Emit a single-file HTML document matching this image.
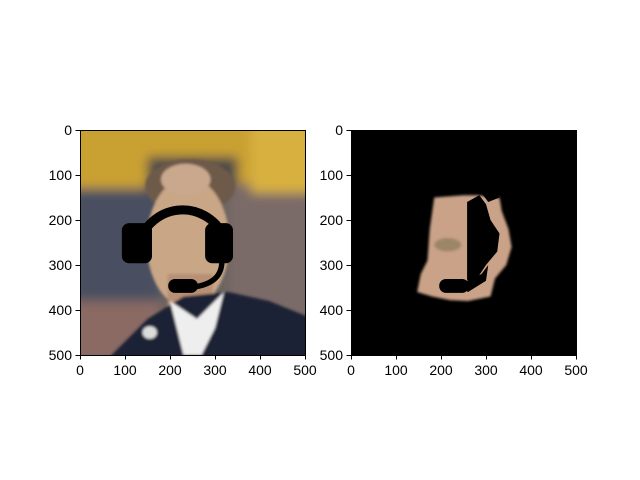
<!DOCTYPE html>
<html><head><meta charset="utf-8"><style>
body{margin:0;background:#fff;width:640px;height:480px;overflow:hidden;font-family:"Liberation Sans","DejaVu Sans",sans-serif}
</style></head><body>
<svg width="640" height="480" style="position:absolute;left:0;top:0">
<defs><filter id="bl"><feGaussianBlur stdDeviation="12"/></filter><filter id="bl2"><feGaussianBlur stdDeviation="3"/></filter>
<clipPath id="c1"><rect width="500" height="500"/></clipPath></defs>
<svg x="80" y="130" width="225" height="225" viewBox="0 0 500 500">
<g clip-path="url(#c1)">
<rect width="500" height="500" fill="#6a6460"/>
<g filter="url(#bl)">
<rect x="-20" y="-20" width="540" height="150" fill="#c9a030"/>
<rect x="150" y="60" width="200" height="80" fill="#4a4a48"/>
<rect x="-20" y="130" width="200" height="300" fill="#4a5060"/>
<rect x="330" y="120" width="200" height="300" fill="#7a6a68"/>
<rect x="380" y="-20" width="140" height="160" fill="#d8b040"/>
<rect x="-20" y="380" width="200" height="140" fill="#8a6a64"/>
</g>
<g filter="url(#bl2)">
<ellipse cx="245" cy="125" rx="100" ry="60" fill="#6e5a48"/>
<ellipse cx="240" cy="250" rx="92" ry="145" fill="#c8a686"/>
<ellipse cx="235" cy="110" rx="55" ry="35" fill="#c9a88e"/>
<rect x="195" y="320" width="100" height="90" fill="#b89074"/>
<path d="M70,500 L150,420 L230,370 L330,360 L420,380 L520,420 L520,520 L70,520Z" fill="#1e2436"/>
<path d="M200,380 L260,420 L320,360 L300,440 L270,500 L230,500 Z" fill="#eeeeee"/>
<ellipse cx="155" cy="450" rx="16" ry="14" fill="#ddd"/>
</g>
<g>
<path d="M127,260 A105,112 0 0 1 320,235" fill="none" stroke="#000" stroke-width="20"/>
<rect x="93" y="207" width="67" height="89" rx="16" fill="#000"/>
<rect x="278" y="207" width="62" height="89" rx="16" fill="#000"/>
<path d="M315,285 Q320,345 240,350" fill="none" stroke="#000" stroke-width="12"/>
<rect x="196" y="331" width="66" height="31" rx="15" fill="#000"/>
</g>
</g>
</svg>
<svg x="351" y="130" width="225" height="225" viewBox="0 0 500 500">
<rect width="500" height="500" fill="#000"/>
<g filter="url(#bl2)">
<path d="M185,150 L250,145 L280,145 L330,150 L335,180 L350,220 L357,260 L345,300 L320,330 L310,370 L260,380 L220,378 L180,370 L147,360 L155,320 L170,290 L175,220 Z" fill="#c9a288"/>
<ellipse cx="215" cy="255" rx="30" ry="15" fill="#8a7a58" opacity="0.7"/>
</g>
<g fill="#000">
<path d="M258,160 L285,145 L300,165 L310,200 L330,230 L325,270 L300,300 L280,330 L258,335Z"/>
<path d="M290,140 L305,160 L330,150 L325,140Z"/>
<rect x="196" y="331" width="66" height="31" rx="15"/>
<path d="M240,345 L290,320 L305,300 L300,335 L260,360Z"/>
</g>
</svg>
<g fill="none" stroke="#000" stroke-width="1">
<rect x="80.5" y="130.5" width="225" height="225"/>
<rect x="351.5" y="130.5" width="225" height="225"/>
</g>
<g id="ticks" font-size="14" fill="#000"></g>
</svg>
<script>
const tickValues=[0,100,200,300,400,500];
const g=document.getElementById('ticks');
const axes=[{x0:80,y0:130},{x0:351,y0:130}];
const s=v=>v*225/500;
const NS='http://www.w3.org/2000/svg';
axes.forEach((a,i)=>{
 tickValues.forEach(v=>{
  const xl=document.createElementNS(NS,'line');
  xl.setAttribute('x1',a.x0+s(v)+.5);xl.setAttribute('x2',a.x0+s(v)+.5);xl.setAttribute('y1',a.y0+225);xl.setAttribute('y2',a.y0+229.5);xl.setAttribute('stroke','#000');
  
  
  g.appendChild(xl);
  const xt=document.createElementNS(NS,'text');
  xt.setAttribute('x',a.x0+s(v));xt.setAttribute('y',a.y0+245);xt.setAttribute('text-anchor','middle');xt.textContent=v;
  
  
  g.appendChild(xt);
  const yl=document.createElementNS(NS,'line');
  yl.setAttribute('x1',a.x0-4.5);yl.setAttribute('x2',a.x0);yl.setAttribute('y1',a.y0+s(v)+.5);yl.setAttribute('y2',a.y0+s(v)+.5);yl.setAttribute('stroke','#000');
  
  
  g.appendChild(yl);
  const yt=document.createElementNS(NS,'text');
  yt.setAttribute('x',a.x0-8);yt.setAttribute('y',a.y0+s(v)+5);yt.setAttribute('text-anchor','end');yt.textContent=v;
  
  
  g.appendChild(yt);
 });
});
</script>
</body></html>
